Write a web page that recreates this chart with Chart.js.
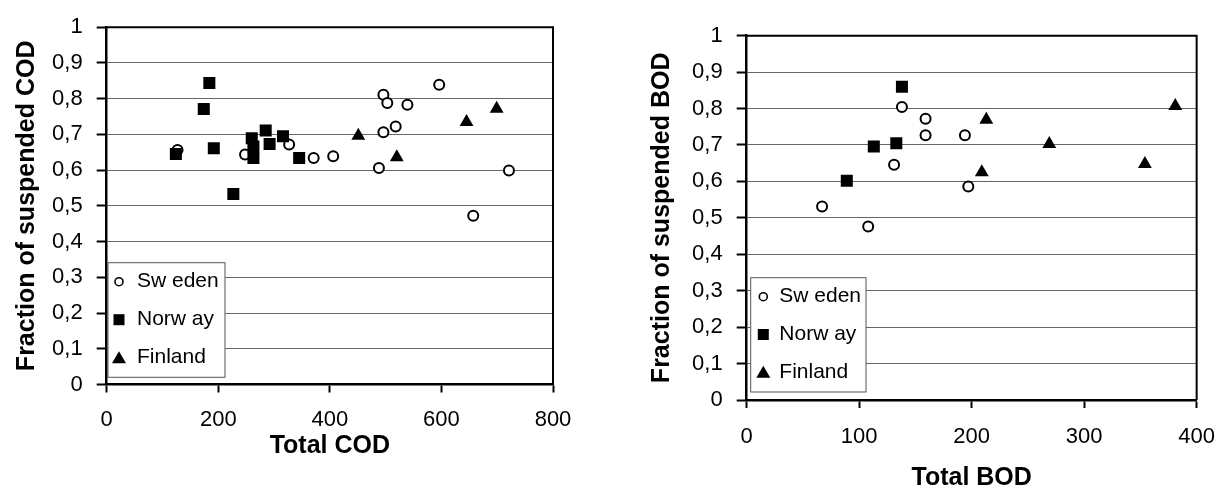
<!DOCTYPE html>
<html>
<head>
<meta charset="utf-8">
<script src="https://cdn.jsdelivr.net/npm/chart.js@4.4.1/dist/chart.umd.min.js"></script>
<style>
  body { margin: 0; background: #fff; width: 1231px; height: 495px; overflow: hidden; position: relative; }
  .box { position: absolute; top: 0; height: 495px; }
  #left { left: 0; width: 600px; }
  #right { left: 620px; width: 611px; }
</style>
</head>
<body>
<div class="box" id="left"><canvas id="codChart"></canvas></div>
<div class="box" id="right"><canvas id="bodChart"></canvas></div>
<script>
// series labels (as rendered in the source figure)
const seriesLabels = ['Sw eden', 'Norw ay', 'Finland'];

// COD chart
const codSwedenX = [127, 248, 327, 371, 406, 488, 496, 496, 503, 518, 539, 596, 657, 721];
const codSwedenY = [0.656, 0.644, 0.672, 0.634, 0.639, 0.606, 0.811, 0.706, 0.788, 0.722, 0.783, 0.839, 0.472, 0.599];
const codNorwayX = [184, 174, 124, 192, 260, 263, 263, 285, 292, 316, 345, 227];
const codNorwayY = [0.844, 0.771, 0.645, 0.661, 0.689, 0.666, 0.634, 0.711, 0.673, 0.695, 0.634, 0.533];
const codFinlandX = [451, 520, 645, 699];
const codFinlandY = [0.696, 0.636, 0.735, 0.772];

// BOD chart
const bodSwedenX = [67, 108, 131, 138, 159, 159, 194, 197];
const bodSwedenY = [0.531, 0.476, 0.646, 0.804, 0.772, 0.727, 0.727, 0.586];
const bodNorwayX = [89, 113, 133, 138];
const bodNorwayY = [0.602, 0.696, 0.705, 0.860];
const bodFinlandX = [209, 213, 269, 354, 381];
const bodFinlandY = [0.625, 0.769, 0.703, 0.648, 0.807];

// tick labels
const yTickLabels = ['0', '0,1', '0,2', '0,3', '0,4', '0,5', '0,6', '0,7', '0,8', '0,9', '1'];
const codTickLabels = ['0', '200', '400', '600', '800'];
const bodTickLabels = ['0', '100', '200', '300', '400'];

const FONT = '"Liberation Sans", Arial, sans-serif';
Chart.defaults.font.family = FONT;
Chart.defaults.color = '#000';

const pts = (xs, ys) => xs.map((x, i) => ({ x, y: ys[i] }));

function drawMarker(ctx, style, cx, cy) {
  ctx.beginPath();
  if (style === 'circle') {
    ctx.arc(cx, cy, 4, 0, Math.PI * 2);
    ctx.fillStyle = '#fff'; ctx.fill();
    ctx.lineWidth = 1.6; ctx.strokeStyle = '#000'; ctx.stroke();
  } else if (style === 'rect') {
    ctx.fillStyle = '#000'; ctx.fillRect(cx - 5.5, cy - 5.5, 11, 11);
  } else {
    ctx.moveTo(cx, cy - 6.5); ctx.lineTo(cx + 7, cy + 5.5); ctx.lineTo(cx - 7, cy + 5.5);
    ctx.closePath(); ctx.fillStyle = '#000'; ctx.fill();
  }
}

// box round the plot area and the legend inside it
const framePlugin = {
  id: 'frame',
  afterDatasetsDraw(chart) {
    const { ctx, chartArea: a } = chart;
    ctx.save();
    ctx.strokeStyle = '#000'; ctx.lineWidth = 2;
    ctx.beginPath();
    ctx.moveTo(a.left, a.top); ctx.lineTo(a.right, a.top); ctx.lineTo(a.right, a.bottom);
    ctx.stroke();
    ctx.restore();
  }
};

const insideLegend = {
  id: 'insideLegend',
  afterDraw(chart, args, o) {
    const { ctx, chartArea: a } = chart;
    const x = a.left + o.dx, y = a.bottom - o.dy - o.h;
    ctx.save();
    ctx.fillStyle = '#fff'; ctx.fillRect(x, y, o.w, o.h);
    ctx.strokeStyle = '#555'; ctx.lineWidth = 1; ctx.strokeRect(x, y, o.w, o.h);
    ctx.font = '21px ' + FONT;
    ctx.textBaseline = 'middle';
    chart.data.datasets.forEach((ds, i) => {
      const cy = y + o.rowTop + i * o.rowGap;
      drawMarker(ctx, ds.pointStyle, x + o.markX, cy);
      ctx.fillStyle = '#000';
      ctx.fillText(ds.label, x + o.textX, cy);
    });
    ctx.restore();
  }
};

function makeDatasets(sx, sy, nx, ny, fx, fy) {
  return [
    { label: seriesLabels[0], data: pts(sx, sy), pointStyle: 'circle', pointRadius: 5, borderWidth: 2,
      borderColor: '#000', backgroundColor: '#fff', order: 2 },
    { label: seriesLabels[1], data: pts(nx, ny), pointStyle: 'rect', pointRadius: 8.5, borderWidth: 0,
      borderColor: '#000', backgroundColor: '#000', order: 0 },
    { label: seriesLabels[2], data: pts(fx, fy), pointStyle: 'triangle', pointRadius: 8, borderWidth: 0,
      borderColor: '#000', backgroundColor: '#000', order: 1 }
  ];
}

function makeChart(id, cfg) {
  return new Chart(document.getElementById(id), {
    type: 'scatter',
    data: { datasets: cfg.datasets },
    plugins: [framePlugin, insideLegend],
    options: {
      responsive: true,
      maintainAspectRatio: false,
      animation: false,
      events: [],
      layout: { padding: cfg.padding },
      plugins: {
        legend: { display: false },
        tooltip: { enabled: false },
        insideLegend: cfg.legend
      },
      scales: {
        x: {
          type: 'linear', min: 0, max: cfg.xMax,
          afterFit: s => { s.height = cfg.xHeight; },
          grid: { drawOnChartArea: false, tickLength: 8, tickColor: '#000', tickWidth: 2 },
          border: { color: '#000', width: 2.5 },
          ticks: { stepSize: cfg.xMax / 4, padding: cfg.xTickPad, font: { size: 22 },
                   callback: (v, i) => cfg.xTicks[i] },
          title: { display: true, text: cfg.xTitle, font: { size: 25, weight: 'bold' }, padding: { top: 0, bottom: 0 } }
        },
        y: {
          min: 0, max: 1,
          afterFit: s => { s.width = cfg.yWidth; },
          grid: { color: '#666', lineWidth: 1, tickLength: 10, tickColor: '#000', tickWidth: 2 },
          border: { color: '#000', width: 2.5 },
          ticks: { stepSize: 0.1, padding: 14, font: { size: 22 }, callback: (v, i) => yTickLabels[i] },
          title: { display: true, text: cfg.yTitle, font: { size: 25, weight: 'bold' }, padding: { top: cfg.yTitlePad, bottom: 0 } }
        }
      }
    }
  });
}

makeChart('codChart', {
  datasets: makeDatasets(codSwedenX, codSwedenY, codNorwayX, codNorwayY, codFinlandX, codFinlandY),
  padding: { top: 23.5, right: 47, bottom: 34, left: 0 },
  xMax: 800, xTicks: codTickLabels, xHeight: 76.5, xTickPad: 14,
  yWidth: 106.7, yTitlePad: 12,
  xTitle: 'Total COD', yTitle: 'Fraction of suspended COD',
  legend: { dx: 1.3, dy: 7.2, w: 117, h: 114.6, rowTop: 19, rowGap: 38, markX: 11, textX: 29 }
});

makeChart('bodChart', {
  datasets: makeDatasets(bodSwedenX, bodSwedenY, bodNorwayX, bodNorwayY, bodFinlandX, bodFinlandY),
  padding: { top: 35.7, right: 31, bottom: 2, left: 0 },
  xMax: 400, xTicks: bodTickLabels, xHeight: 93, xTickPad: 16,
  yWidth: 126.7, yTitlePad: 27,
  xTitle: 'Total BOD', yTitle: 'Fraction of suspended BOD',
  legend: { dx: 4, dy: 8, w: 115.3, h: 114.3, rowTop: 19, rowGap: 37.8, markX: 12.6, textX: 28.6 }
});
</script>
</body>
</html>
